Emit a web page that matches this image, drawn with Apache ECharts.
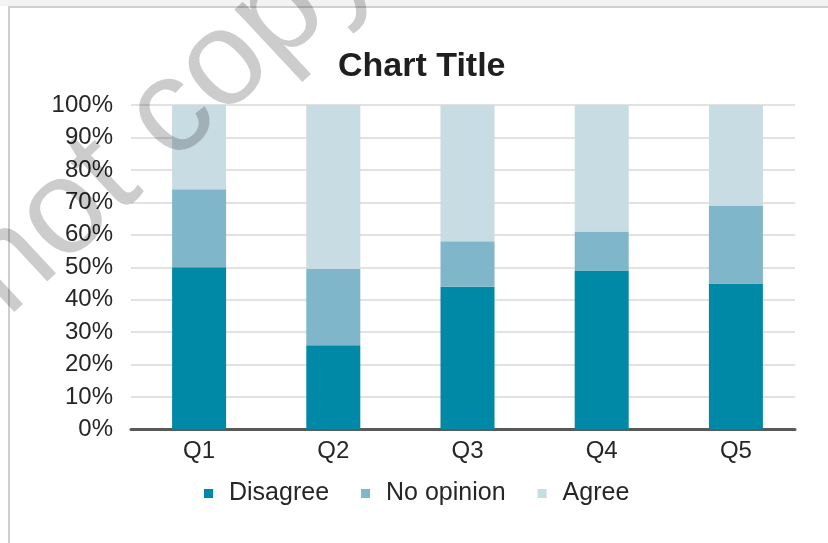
<!DOCTYPE html>
<html>
<head>
<meta charset="utf-8">
<script src="https://cdn.jsdelivr.net/npm/echarts@6/dist/echarts.min.js"></script>
<style>
  html, body { margin: 0; padding: 0; background: #ffffff; }
  #chart { width: 828px; height: 543px; }
</style>
</head>
<body>
<div id="chart"></div>
<script>
// ---- data ----
var categories = ['Q1', 'Q2', 'Q3', 'Q4', 'Q5'];
var disagree   = [50, 26, 44, 49, 45];
var noOpinion  = [24, 23.5, 14, 12, 24];
var agree      = [26, 50.5, 42, 39, 31];
var seriesNames = ['Disagree', 'No opinion', 'Agree'];
var yTicks = [0, 10, 20, 30, 40, 50, 60, 70, 80, 90, 100];
var chartTitle = 'Chart Title';
var watermarkText = 'Do not copy';

var colors = ['#0088A7', '#7FB6CA', '#C8DCE4'];
var font = '"Liberation Sans", Arial, sans-serif';

var chart = echarts.init(document.getElementById('chart'), null, { renderer: 'canvas' });

var option = {
  animation: false,
  backgroundColor: '#ffffff',
  color: colors,
  title: {
    text: chartTitle,
    left: 338,
    top: 50,
    padding: 0,
    textStyle: { fontFamily: font, fontSize: 34, fontWeight: 'bold', color: '#1f1f1f' }
  },
  legend: {
    data: seriesNames,
    left: 204,
    top: 481,
    padding: 0,
    icon: 'rect',
    itemWidth: 9,
    itemHeight: 9,
    itemGap: 32,
    textStyle: { fontFamily: font, fontSize: 25, color: '#262626', padding: [0, 0, 0, 11] }
  },
  grid: [
    { left: 131, right: 33, top: 105, bottom: 113.5 },
    { left: 132, right: 25, top: 105, bottom: 113.5 }
  ],
  xAxis: [
    {
      type: 'category', gridIndex: 0, data: categories,
      axisLine: { show: true, lineStyle: { color: '#595959', width: 3 } },
      axisTick: { show: false },
      axisLabel: { show: false },
      splitLine: { show: false }
    },
    {
      type: 'category', gridIndex: 1, data: categories,
      axisLine: { show: false },
      axisTick: { show: false },
      axisLabel: { show: true, margin: 10, fontFamily: font, fontSize: 24, color: '#262626' },
      splitLine: { show: false }
    }
  ],
  yAxis: [
    {
      type: 'value', gridIndex: 0, min: yTicks[0], max: yTicks[yTicks.length - 1], interval: 10,
      axisLine: { show: false },
      axisTick: { show: false },
      axisLabel: { margin: 18, fontFamily: font, fontSize: 24, color: '#262626', formatter: '{value}%' },
      splitLine: { show: true, lineStyle: { color: '#e2e2e2', width: 2 } }
    },
    {
      type: 'value', gridIndex: 1, min: yTicks[0], max: yTicks[yTicks.length - 1], interval: 10,
      show: false,
      splitLine: { show: false }
    }
  ],
  series: [
    { name: seriesNames[0], type: 'bar', stack: 'total', xAxisIndex: 1, yAxisIndex: 1,
      barWidth: 54, data: disagree, itemStyle: { color: colors[0] } },
    { name: seriesNames[1], type: 'bar', stack: 'total', xAxisIndex: 1, yAxisIndex: 1,
      barWidth: 54, data: noOpinion, itemStyle: { color: colors[1] } },
    { name: seriesNames[2], type: 'bar', stack: 'total', xAxisIndex: 1, yAxisIndex: 1,
      barWidth: 54, data: agree, itemStyle: { color: colors[2] } }
  ],
  graphic: [
    { type: 'rect', z: -10, silent: true,
      shape: { x: 0, y: 0, width: 828, height: 6 },
      style: { fill: '#f3f3f3' } },
    { type: 'rect', z: -5, silent: true,
      shape: { x: 9, y: 7, width: 900, height: 600 },
      style: { fill: 'none', stroke: '#cfcfcf', lineWidth: 2 } },
    { type: 'text', z: 100, silent: true,
      x: 92, y: 189, rotation: 43 * Math.PI / 180,
      style: {
        text: watermarkText,
        font: '135px "Liberation Sans", Arial, sans-serif',
        fill: 'rgba(0,0,0,0.2)',
        align: 'center',
        verticalAlign: 'middle'
      } }
  ]
};

chart.setOption(option);
</script>
</body>
</html>
